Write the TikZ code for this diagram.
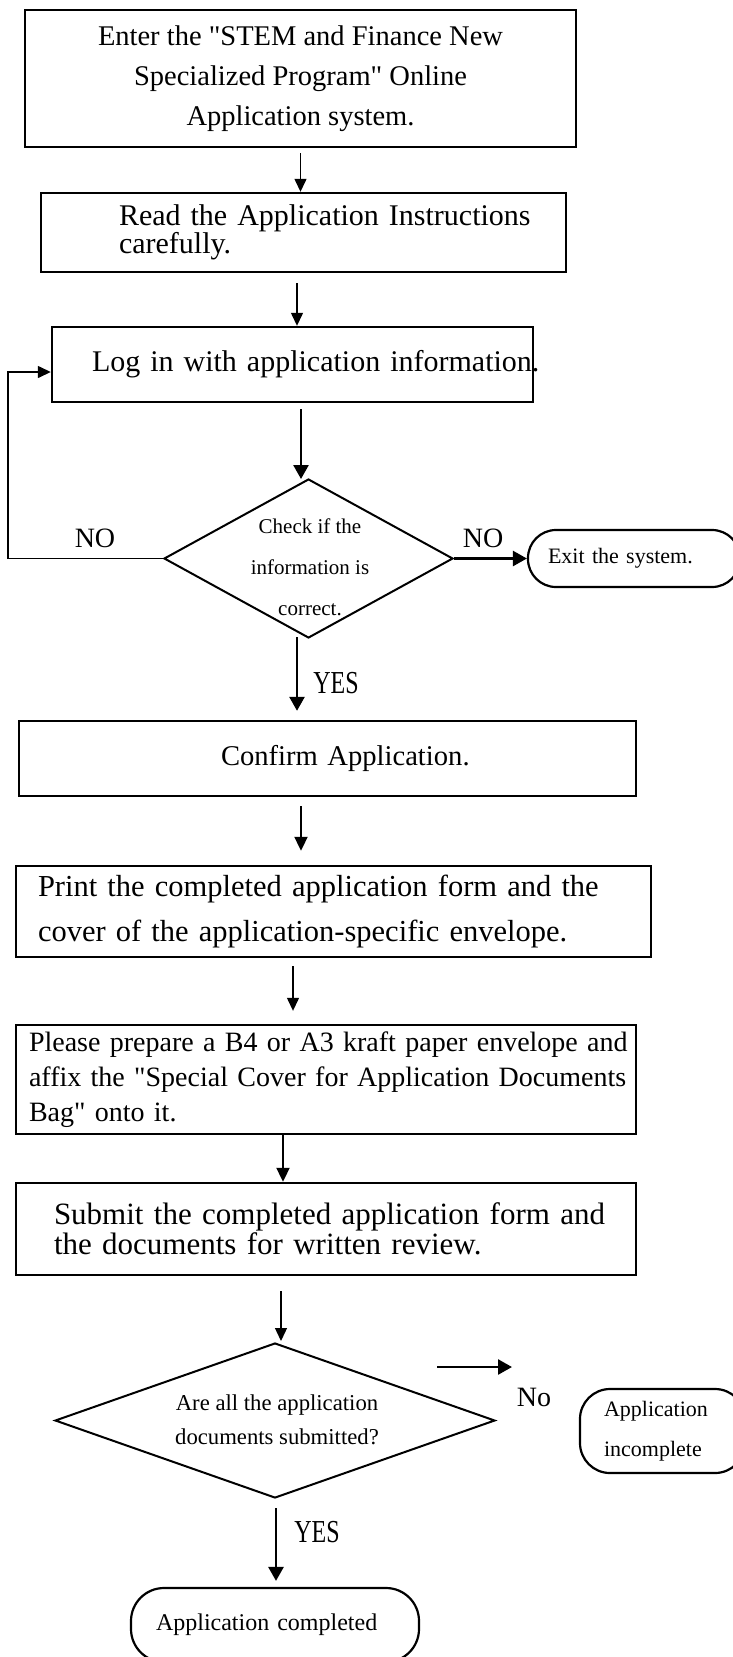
\documentclass[tikz,border=0pt]{standalone}
\usepackage{fontspec}
\setmainfont{Liberation Serif}
\newfontfamily\condfont[FakeStretch=0.75]{Liberation Serif}
\newcommand{\dq}{\XeTeXglyph\XeTeXcharglyph"22\relax}
\usetikzlibrary{arrows.meta,shapes.geometric}
\begin{document}
\begin{tikzpicture}[x=1pt,y=1pt,
  box/.style={draw, line width=2.4pt, rectangle, inner ysep=0pt},
  term/.style={draw, line width=2.2pt, rectangle, inner ysep=0pt},
  dia/.style={draw, line width=2pt, diamond, inner sep=0pt},
  thinarrow/.style={line width=1.3pt, -{Triangle[length=13pt,width=12pt]}},
  midarrow/.style={line width=2pt, -{Triangle[length=14pt,width=13pt]}},
  thickarrow/.style={line width=2.6pt, -{Triangle[length=14pt,width=15pt]}},
  lbl/.style={inner sep=0pt, font=\fontsize{28}{30}\selectfont},
  yes/.style={inner sep=0pt, font=\condfont\fontsize{32}{32}\selectfont}]
\useasboundingbox (0,0) rectangle (733,-1657);
\fill[white] (0,0) rectangle (733,-1657);
\clip (0,0) rectangle (733,-1657);

% boxes
\node[box, minimum width=551pt, minimum height=137pt, inner xsep=0pt, align=center,
      font=\fontsize{28.5}{40}\selectfont] (b1) at (300.5,-78.5)
  {Enter the \dq STEM and Finance New\\Specialized Program\dq{} Online\\Application system.};
\node[box, minimum width=525pt, minimum height=79pt, inner xsep=78pt, text width=369pt, align=left,
      font=\fontsize{30}{26}\selectfont] (b2) at (303.5,-232.5)
  {\mbox{Read the Application Instructions}\\carefully.};
\node[box, minimum width=481pt, minimum height=75pt, inner xsep=40pt, text width=401pt, align=left,
      font=\fontsize{30}{32}\selectfont] (b3) at (292.5,-364.5)
  {\mbox{Log in with application information.}};
\node[dia, minimum width=289pt, minimum height=159pt] (d1) at (308.5,-558.5) {};
\node[inner sep=0pt, align=center, font=\fontsize{21}{41}\selectfont] (d1t) at (310,-567)
  {Check if the\\information is\\correct.};
\node[term, rounded corners=28pt, minimum width=212pt, minimum height=57pt, inner xsep=20pt,
      text width=172pt, align=left, font=\fontsize{22}{26}\selectfont] (ex) at (634,-558.5)
  {\mbox{Exit the system.}};
\node[box, minimum width=617pt, minimum height=75pt, inner xsep=202pt, text width=213pt, align=left,
      font=\fontsize{28.6}{30}\selectfont] (b4) at (327.5,-758.5)
  {\mbox{Confirm Application.}};
\node[box, minimum width=635pt, minimum height=91pt, inner xsep=22pt, text width=591pt, align=left,
      font=\fontsize{30.5}{45}\selectfont] (b5) at (333.5,-911.5)
  {\mbox{Print the completed application form and the}\\\mbox{cover of the application-specific envelope.}};
\node[box, minimum width=620pt, minimum height=109pt, inner xsep=13pt, text width=594pt, align=left,
      font=\fontsize{28}{35}\selectfont] (b6) at (326,-1079.5)
  {\mbox{Please prepare a B4 or A3 kraft paper envelope and}\\\mbox{affix the \dq Special Cover for Application Documents}\\\mbox{Bag\dq{} onto it.}};
\node[box, minimum width=620pt, minimum height=92pt, inner xsep=38pt, text width=544pt, align=left,
      font=\fontsize{31}{30}\selectfont] (b7) at (326,-1229)
  {\mbox{Submit the completed application form and}\\\mbox{the documents for written review.}};
\node[dia, minimum width=440pt, minimum height=155pt] (d2) at (275,-1420.5) {};
\node[inner sep=0pt, align=center, font=\fontsize{22.7}{34}\selectfont] (d2t) at (277,-1420)
  {Are all the application\\documents submitted?};
\node[term, rounded corners=30pt, minimum width=165pt, minimum height=84pt, inner xsep=24pt,
      text width=117pt, align=left, font=\fontsize{22}{40}\selectfont] (inc) at (662.5,-1431)
  {Application\\incomplete};
\node[term, rounded corners=33pt, minimum width=288pt, minimum height=74pt, inner xsep=25pt,
      text width=238pt, align=left, font=\fontsize{24}{26}\selectfont] (done) at (275,-1625)
  {\mbox{Application completed}};

% labels
\node[lbl] (no1) at (95,-538) {NO};
\node[lbl] (no2) at (483,-538) {NO};
\node[yes] (yes1) at (336,-683) {YES};
\node[lbl] (no3) at (534,-1397) {No};
\node[yes] (yes2) at (317,-1532) {YES};

% connectors
\draw[thinarrow] ([yshift=-5pt]b1.south) -- (b1.south |- b2.north);
\draw[thinarrow] ([xshift=-6.5pt,yshift=-10pt]b2.south) -- ([xshift=-6.5pt]b2.south |- b3.north);
\draw[thickarrow] ([xshift=8.5pt,yshift=-6pt]b3.south) -- ([xshift=-7.5pt,yshift=-1pt]d1.north);
\draw[line width=1.4pt, -{Triangle[length=13pt,width=12pt]}]
  (d1.west) -- ++(-155,0) |- ([yshift=-7.5pt]b3.west);
\draw[thickarrow] (d1.east) -- (ex.west);
\draw[thickarrow] ([xshift=-11.5pt,yshift=2pt]d1.south) -- ([xshift=-30.5pt,yshift=9pt]b4.north);
\draw[midarrow] ([xshift=-26.5pt,yshift=-9pt]b4.south) -- ([xshift=-32.5pt,yshift=14pt]b5.north);
\draw[thinarrow] ([xshift=-40.5pt,yshift=-8pt]b5.south) -- ([xshift=-33pt,yshift=13pt]b6.north);
\draw[midarrow] ([xshift=-43pt]b6.south) -- ([xshift=-43pt]b7.north);
\draw[thinarrow] ([xshift=-45pt,yshift=-15pt]b7.south) -- ([xshift=6pt,yshift=1pt]d2.north);
\coordinate (fa) at (437,-1367);
\coordinate (fb) at (512,-1367);
\draw[thickarrow] (fa) -- (fb);
\draw[thickarrow] ([xshift=1pt,yshift=-9pt]d2.south) -- ([xshift=1pt,yshift=6pt]done.north);
\end{tikzpicture}
\end{document}
